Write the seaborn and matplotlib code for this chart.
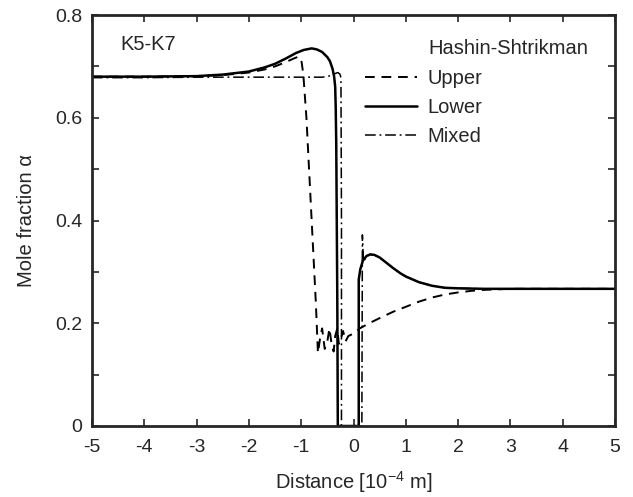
import numpy as np
import pandas as pd
import matplotlib
matplotlib.use("Agg")
import matplotlib.pyplot as plt
import seaborn as sns
from matplotlib.ticker import MultipleLocator

# --- data ---
upper_x = [-5, -4, -3, -2.5, -2.0, -1.7, -1.5, -1.3, -1.15, -1.05, -1.0, -0.96, -0.9, -0.8,
           -0.72, -0.68, -0.64, -0.6, -0.55, -0.5, -0.46, -0.42, -0.38, -0.35, -0.31, -0.28,
           -0.24, -0.2, -0.15, -0.1, 0.0, 0.12, 0.3, 0.5, 0.75, 1.0, 1.25, 1.5, 1.75, 2.0,
           2.25, 2.5, 2.75, 3.0, 3.5, 4.0, 5.0]
upper_y = [0.680, 0.680, 0.681, 0.683, 0.688, 0.694, 0.700, 0.708, 0.715, 0.719, 0.714, 0.685,
           0.60, 0.40, 0.24, 0.142, 0.17, 0.19, 0.15, 0.165, 0.19, 0.16, 0.145, 0.175, 0.19,
           0.16, 0.17, 0.185, 0.165, 0.175, 0.180, 0.190, 0.200, 0.210, 0.222, 0.232, 0.242,
           0.250, 0.256, 0.260, 0.263, 0.265, 0.266, 0.267, 0.267, 0.267, 0.267]

lower_x = [-5, -4, -3, -2.5, -2.0, -1.7, -1.5, -1.3, -1.1, -0.95, -0.8, -0.7, -0.6, -0.5,
           -0.45, -0.4, -0.37, -0.35, -0.34, -0.33, -0.31, -0.30, 0.0, 0.10, 0.10, 0.13,
           0.18, 0.25, 0.32, 0.4, 0.5, 0.6, 0.75, 0.9, 1.0, 1.25, 1.5, 1.75, 2.0, 2.5, 3.0,
           4.0, 5.0]
lower_y = [0.680, 0.680, 0.681, 0.684, 0.690, 0.698, 0.705, 0.715, 0.726, 0.732, 0.735,
           0.733, 0.728, 0.718, 0.710, 0.695, 0.68, 0.66, 0.62, 0.55, 0.25, 0.0, 0.0, 0.0,
           0.285, 0.305, 0.322, 0.331, 0.334, 0.333, 0.328, 0.320, 0.308, 0.297, 0.291,
           0.280, 0.273, 0.269, 0.268, 0.267, 0.267, 0.267, 0.267]

mixed_x = [-5, -4, -3, -2, -1.5, -1.0, -0.8, -0.6, -0.5, -0.42, -0.35, -0.30, -0.26, -0.24,
           -0.23, -0.23, 0.0, 0.16, 0.17, 0.19, 0.22, 0.27, 0.32, 0.4, 0.5, 0.6, 0.75, 0.9,
           1.0, 1.25, 1.5, 1.75, 2.0, 2.5, 3.0, 4.0, 5.0]
mixed_y = [0.678, 0.678, 0.679, 0.679, 0.679, 0.679, 0.679, 0.679, 0.680, 0.683, 0.686,
           0.688, 0.685, 0.678, 0.40, 0.0, 0.0, 0.0, 0.372, 0.320, 0.325, 0.331, 0.334,
           0.333, 0.328, 0.320, 0.308, 0.297, 0.291, 0.280, 0.273, 0.269, 0.268, 0.267,
           0.267, 0.267, 0.267]

series_names = ["Upper", "Lower", "Mixed"]
x_ticks = [-5, -4, -3, -2, -1, 0, 1, 2, 3, 4, 5]
y_ticks = [0, 0.2, 0.4, 0.6, 0.8]
y_tick_labels = ["0", "0.2", "0.4", "0.6", "0.8"]

sns.set_style("ticks")
plt.rcParams["font.family"] = ["Liberation Sans", "DejaVu Sans"]
plt.rcParams["mathtext.fontset"] = "custom"
plt.rcParams["mathtext.rm"] = "Liberation Sans"

FS = 14.5
fig = plt.figure(figsize=(6.33, 4.97), dpi=100)
ax = fig.add_axes([92 / 633, 1 - 426 / 497, (615 - 92) / 633, (426 - 15) / 497])

styles = {"Upper": (0, (5, 3.5)), "Lower": "-", "Mixed": (0, (7, 2.5, 1.2, 2.5))}
widths = {"Upper": 1.4, "Lower": 1.8, "Mixed": 1.1}
data = {"Upper": (upper_x, upper_y), "Lower": (lower_x, lower_y), "Mixed": (mixed_x, mixed_y)}

for name in series_names:
    xs, ys = data[name]
    df = pd.DataFrame({"x": xs, "y": ys})
    sns.lineplot(data=df, x="x", y="y", ax=ax, color="black", linestyle=styles[name],
                 linewidth=widths[name], sort=False, estimator=None, label=name)

ax.set_xlim(-5, 5)
ax.set_ylim(0, 0.8)
ax.set_xticks(x_ticks)
ax.set_xticklabels([str(t) for t in x_ticks])
ax.set_yticks(y_ticks)
ax.set_yticklabels(y_tick_labels)
ax.yaxis.set_minor_locator(MultipleLocator(0.1))
ax.tick_params(which="both", direction="in", top=True, right=True, labelsize=14,
               width=1.2)
ax.tick_params(axis="x", pad=9)
ax.tick_params(axis="y", pad=7)
ax.tick_params(which="major", length=5)
ax.tick_params(which="minor", length=5)
for s in ax.spines.values():
    s.set_linewidth(2)
    s.set_visible(True)

ax.set_xlabel("Distance [10$^{\\mathregular{-4}}$ m]", fontsize=FS, labelpad=10)
ax.set_ylabel("Mole fraction α", fontsize=FS, labelpad=14)

ax.text(28 / 523, 1 - 30 / 411, "K5-K7", transform=ax.transAxes, fontsize=FS,
        va="center", ha="left")
ax.text((428 - 92) / 523, 1 - 33 / 411, "Hashin-Shtrikman", transform=ax.transAxes,
        fontsize=FS, va="center", ha="left")

leg = ax.legend(loc="upper left", bbox_to_anchor=((367 - 92) / 523 - 0.012, 1 - 50 / 411),
                frameon=False, fontsize=FS, handlelength=2.6,
                handletextpad=0.5, labelspacing=0.5, borderaxespad=0.0, borderpad=0.2)

fig.savefig("out.png", dpi=100)
